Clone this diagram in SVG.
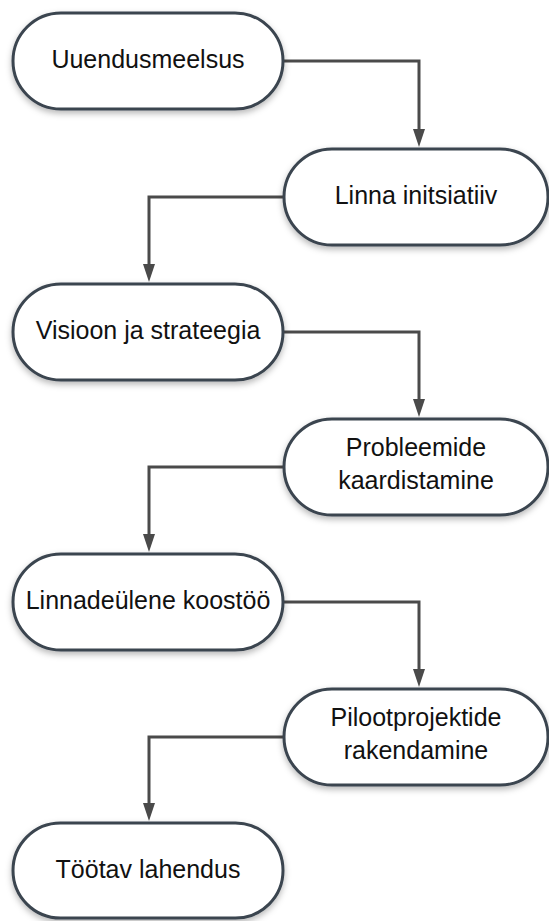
<svg xmlns="http://www.w3.org/2000/svg" width="549" height="921" viewBox="0 0 549 921">
<defs>
<filter id="sh" x="-10%" y="-20%" width="120%" height="150%">
<feDropShadow dx="0" dy="3" stdDeviation="3" flood-color="#000" flood-opacity="0.28"/>
</filter>
<marker id="ah" viewBox="0 0 18 12" refX="0" refY="6" markerWidth="18" markerHeight="12" markerUnits="userSpaceOnUse" orient="auto">
<path d="M0,0 L18,6 L0,12 z" fill="#4a4a4a"/>
</marker>
</defs>
<style>
.node rect{fill:#fff;stroke:#3a444f;stroke-width:3;filter:url(#sh)}
.node text{font-family:"Liberation Sans",Arial,sans-serif;font-size:25px;fill:#111;text-anchor:middle}
#connectors path{fill:none;stroke:#4a4a4a;stroke-width:3;marker-end:url(#ah)}
</style>
<rect width="549" height="921" fill="#fff"/>
<g id="connectors">
<path d="M283,61 H419 V129"/>
<path d="M284,197 H149 V264"/>
<path d="M283,332 H419 V399"/>
<path d="M284,467 H149 V534"/>
<path d="M283,602 H419 V669"/>
<path d="M284,737 H149 V803"/>
</g>
<g id="n1" class="node"><rect x="13" y="13" width="270" height="96" rx="48"/><text x="148" y="68">Uuendusmeelsus</text></g>
<g id="n2" class="node"><rect x="284" y="149" width="264" height="96" rx="48"/><text x="416" y="204">Linna initsiatiiv</text></g>
<g id="n3" class="node"><rect x="13" y="284" width="270" height="96" rx="48"/><text x="148" y="339">Visioon ja strateegia</text></g>
<g id="n4" class="node"><rect x="284" y="419" width="264" height="96" rx="48"/><text x="416" y="456">Probleemide</text><text x="416" y="489">kaardistamine</text></g>
<g id="n5" class="node"><rect x="13" y="554" width="270" height="96" rx="48"/><text x="148" y="609">Linnadeülene koostöö</text></g>
<g id="n6" class="node"><rect x="284" y="689" width="264" height="96" rx="48"/><text x="416" y="726">Pilootprojektide</text><text x="416" y="759">rakendamine</text></g>
<g id="n7" class="node"><rect x="13" y="823" width="270" height="95" rx="47.5"/><text x="148" y="878">Töötav lahendus</text></g>
</svg>
